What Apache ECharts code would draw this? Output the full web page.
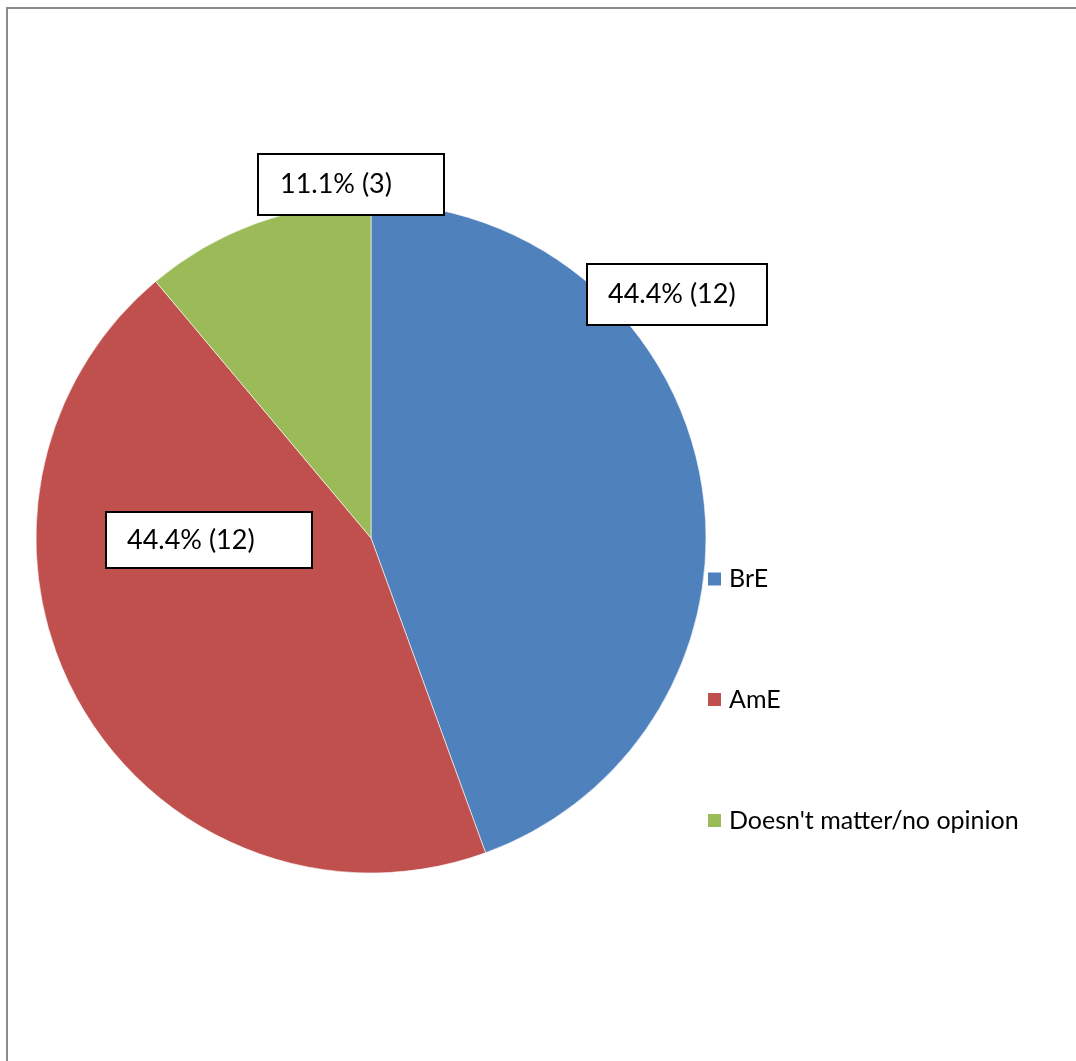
<!DOCTYPE html>
<html>
<head>
<meta charset="utf-8">
<script src="https://cdn.jsdelivr.net/npm/echarts@6/dist/echarts.min.js"></script>
<style>
html,body{margin:0;padding:0;background:#fff;}
#chart{width:1076px;height:1061px;}
</style>
</head>
<body>
<div id="chart"></div>
<script>
const categories = ["BrE", "AmE", "Doesn't matter/no opinion"];
const values = [12, 12, 3];
const colors = ["#4F81BD", "#C0504D", "#9BBB59"];

// label box placement (top-left corner, box size) per slice
const labelBoxes = [
  { x: 588, y: 265, w: 178, h: 59, padL: 20 },
  { x: 107, y: 513, w: 204, h: 54, padL: 20 },
  { x: 259, y: 155, w: 184, h: 59, padL: 21 }
];

const LABEL_FONT = 27;
const LEGEND_FONT = 25;
const FONT = 'Lato, "Open Sans", sans-serif';
const total = values.reduce((a, b) => a + b, 0);

const chart = echarts.init(document.getElementById('chart'), null, { renderer: 'canvas' });

const data = categories.map((name, i) => {
  const b = labelBoxes[i];
  const padV = (b.h - LABEL_FONT) / 2;
  return {
    name: name,
    value: values[i],
    itemStyle: { color: colors[i] },
    label: {
      width: b.w - b.padL,
      padding: [padV, 0, padV, b.padL],
      lineHeight: LABEL_FONT
    }
  };
});

const legendCenters = [579, 699.5, 820.5];
const legends = categories.map((name, i) => ({
  data: [name],
  orient: 'vertical',
  left: 706,
  top: legendCenters[i] - LEGEND_FONT / 2,
  padding: 0,
  itemWidth: 15,
  itemHeight: 15,
  icon: 'rect',
  selectedMode: false,
  textStyle: { fontFamily: FONT, fontSize: LEGEND_FONT, lineHeight: LEGEND_FONT, color: '#000', padding: [0, 0, 0, 2] },
  itemGap: 0
}));

chart.setOption({
  animation: false,
  backgroundColor: '#fff',
  graphic: [{
    type: 'rect',
    shape: { x: 7, y: 8, width: 1100, height: 1100 },
    style: { fill: 'none', stroke: '#8c8c8c', lineWidth: 2 },
    silent: true
  }],
  legend: legends,
  series: [{
    type: 'pie',
    center: [371, 538],
    radius: [0, 335],
    startAngle: 90,
    clockwise: true,
    avoidLabelOverlap: false,
    itemStyle: { borderColor: '#fff', borderWidth: 0.6 },
    emphasis: { disabled: true },
    label: {
      show: true,
      formatter: p => (p.value / total * 100).toFixed(1) + '% (' + p.value + ')',
      fontFamily: FONT,
      fontSize: LABEL_FONT,
      color: '#000',
      backgroundColor: '#fff',
      borderColor: '#000',
      borderWidth: 2,
      align: 'left',
      overflow: 'none'
    },
    labelLine: { show: false },
    labelLayout: function (params) {
      const b = labelBoxes[params.dataIndex];
      return { x: b.x, y: b.y, align: 'left', verticalAlign: 'top', hideOverlap: false };
    },
    data: data
  }]
});
</script>
</body>
</html>
